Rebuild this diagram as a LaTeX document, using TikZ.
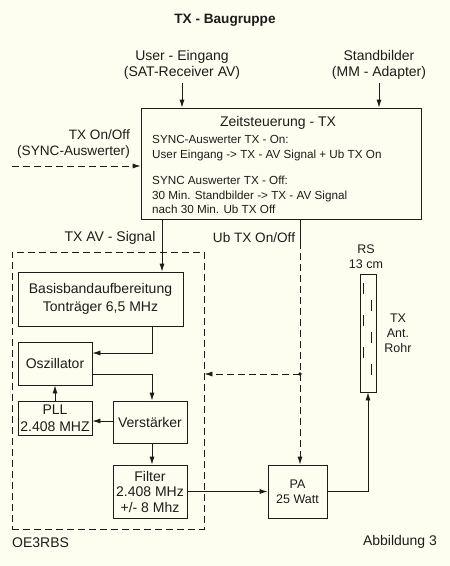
\documentclass[tikz,border=0pt]{standalone}
\usepackage{fontspec}
\setmainfont{Liberation Sans}
\usetikzlibrary{arrows.meta}
\definecolor{bg}{RGB}{254,254,240}
\definecolor{ink}{RGB}{28,28,28}
\begin{document}
\begin{tikzpicture}[x=1pt,y=-1pt,
  line/.style={draw=ink, line width=0.8pt},
  arr/.style={line, -{Latex[length=8pt,width=5pt]}},
  dsh/.style={dash pattern=on 7pt off 4pt},
  box/.style={draw=ink, line width=0.8pt, inner sep=0pt, align=center, text=ink,
              font=\fontsize{14}{17}\selectfont},
  lbl/.style={inner sep=0pt, align=center, text=ink, font=\fontsize{14}{16}\selectfont},
  small/.style={inner sep=0pt, align=left, text=ink, font=\fontsize{11.7}{14.7}\selectfont},
  mid/.style={inner sep=0pt, align=center, text=ink, font=\fontsize{12.5}{15}\selectfont}]
\fill[bg] (0,0) rectangle (450,566);
\useasboundingbox (0,0) rectangle (450,566);

% title
\node[inner sep=0pt, text=ink, font=\bfseries\fontsize{13.6}{16}\selectfont] (title) at (225,20) {TX - Baugruppe};

% inputs
\node[lbl] (user) at (182,65) {User - Eingang\\(SAT-Receiver AV)};
\node[lbl] (stand) at (379,65) {Standbilder\\(MM - Adapter)};
\node[lbl, align=right, anchor=east, font=\fontsize{13.6}{16}\selectfont] (txonoff) at (130,144) {TX On/Off\\(SYNC-Auswerter)};

% Zeitsteuerung box
\node[box, minimum width=280pt, minimum height=111pt] (zeit) at (281,163.5) {};
\node[lbl] (zeittitle) at (278,123) {Zeitsteuerung - TX};
\node[small, anchor=west] (zb1) at (152,148) {SYNC-Auswerter TX - On:\\User Eingang -> TX - AV Signal + Ub TX On};
\node[small, anchor=west] (zb2) at (152,195) {SYNC Auswerter TX - Off:\\30 Min. Standbilder -> TX - AV Signal\\nach 30 Min. Ub TX Off};

% labels
\node[lbl] (avsig) at (110,238) {TX AV - Signal};
\node[lbl, font=\fontsize{13.6}{16}\selectfont] (ublbl) at (254,238) {Ub TX On/Off};
\node[mid] (rslbl) at (366,256.5) {RS\\13 cm};
\node[mid] (antlbl) at (398,333) {TX\\Ant.\\Rohr};
\node[lbl, anchor=west] (oe) at (12,543) {OE3RBS};
\node[lbl] (abb) at (400,542) {Abbildung 3};

% dashed frame
\node[draw=ink, line width=0.8pt, dsh, minimum width=192pt, minimum height=277pt, inner sep=0pt] (frame) at (108,390.5) {};

% blocks
\node[box, minimum width=165pt, minimum height=54pt, font=\fontsize{14}{18}\selectfont] (basis) at (100.5,299) {Basisbandaufbereitung\\Tonträger 6,5 MHz};
\node[box, minimum width=74pt, minimum height=43pt] (osz) at (55,363.5) {Oszillator};
\node[box, minimum width=74pt, minimum height=34pt] (pll) at (55,418) {PLL\\2.408 MHZ};
\node[box, minimum width=74pt, minimum height=42pt] (verst) at (150,422) {Verstärker};
\node[box, minimum width=74pt, minimum height=53pt, font=\fontsize{14}{15.5}\selectfont] (filter) at (150,491.5) {Filter\\2.408 MHz\\+/- 8 Mhz};
\node[box, minimum width=59pt, minimum height=53pt, font=\fontsize{12.5}{15}\selectfont] (pa) at (297.5,491.5) {PA\\25 Watt};
\node[draw=ink, line width=0.8pt, minimum width=16pt, minimum height=118pt, inner sep=0pt] (rod) at (368,333) {};
\draw[ink, line width=0.7pt, dash pattern=on 11pt off 21pt] (363,283) -- (363,362);
\draw[ink, line width=0.7pt, dash pattern=on 11pt off 21pt] (371,300) -- (371,378);

% input arrows
\draw[arr] ([yshift=-3pt]user.south) -- (user.south |- zeit.north);
\draw[arr] ([yshift=-3pt]stand.south) -- (stand.south |- zeit.north);
\coordinate (txin) at (12,166);
\draw[arr, dsh] (txin) -- (txin -| zeit.west);

% signal chain
\draw[arr] ([xshift=61.5pt]basis.north |- zeit.south) -- ([xshift=61.5pt]basis.north);
\draw[arr] ([xshift=51.5pt]basis.south) |- ([yshift=10.5pt]osz.east);
\draw[arr] ([yshift=-10.5pt]osz.east) -| ([xshift=2pt]verst.north);
\draw[arr] (pll.north) -- (osz.south);
\draw[arr] ([yshift=1pt]verst.west) -- ([yshift=1pt]verst.west -| pll.east);
\draw[arr] ([xshift=2pt]verst.south) -- ([xshift=2pt]filter.north);
\draw[arr] (filter.east) -- (pa.west);
\draw[arr] (pa.east) -| (rod.south);

% Ub TX On/Off
\coordinate (ubk) at (300,242);
\coordinate (dot) at (300,374);
\draw[line] ([xshift=2.5pt]pa.north |- zeit.south) -- (ubk);
\draw[arr, dsh] (ubk) -- ([xshift=2.5pt]pa.north);
\draw[arr, dsh] (dot) -- (dot -| frame.east);
\fill[ink] (dot) circle (1.8pt);
\end{tikzpicture}
\end{document}
